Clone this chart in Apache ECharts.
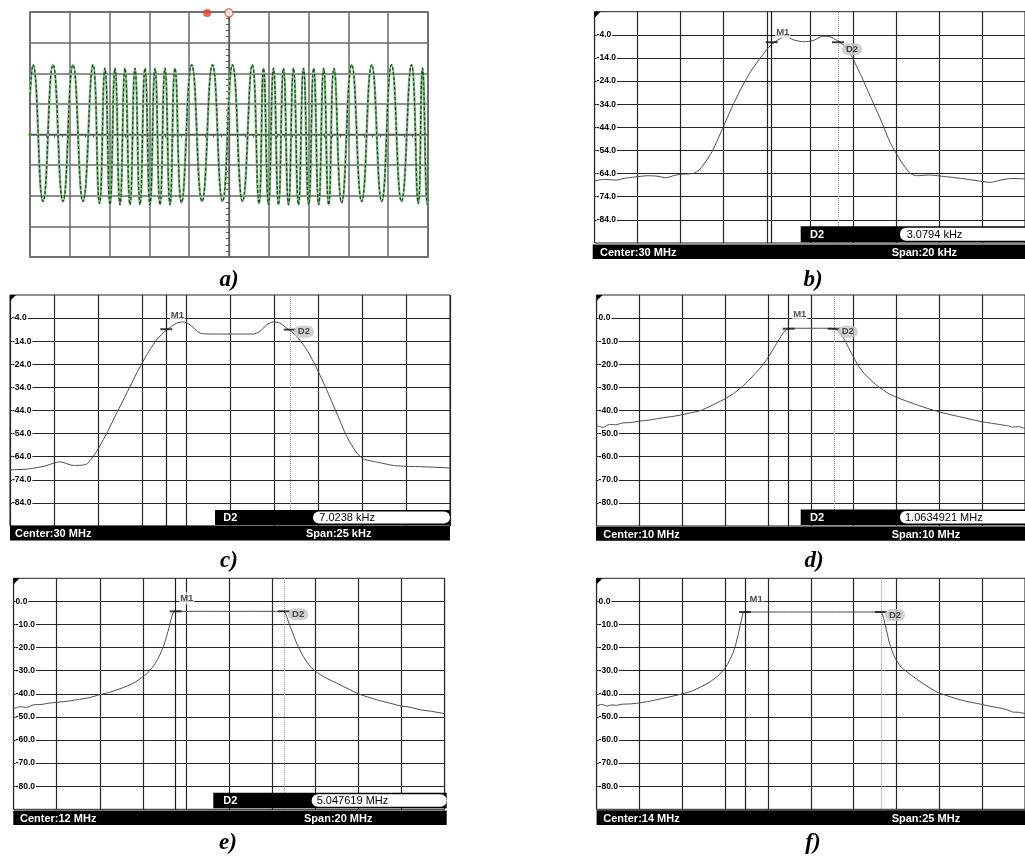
<!DOCTYPE html>
<html><head><meta charset="utf-8">
<script src="https://cdn.jsdelivr.net/npm/echarts@6/dist/echarts.min.js"></script>
<style>html,body{margin:0;padding:0;background:#fff}#c{width:1025px;height:860px}</style>
</head><body><div id="c"></div>
<script>
// ---------- panel a: oscilloscope (time in divisions, volts in divisions) ----------
const aTime = [-5.0,-4.925,-4.673,-4.422,-4.171,-3.92,-3.668,-3.417,-3.254,-3.116,-2.99,-2.864,-2.739,-2.613,-2.487,-2.362,-2.236,-2.111,-1.985,-1.859,-1.734,-1.608,-1.482,-1.357,-1.193,-0.937,-0.678,-0.415,-0.163,0.088,0.339,0.585,0.754,0.867,0.992,1.118,1.244,1.369,1.495,1.621,1.746,1.872,2.003,2.128,2.254,2.379,2.505,2.638,2.832,3.083,3.334,3.585,3.837,4.083,4.334,4.585,4.756,4.862,4.987,5.0];
const aVolt = [1.3,2.27,-2.18,2.27,-2.18,2.27,-2.18,2.27,-2.25,2.16,-2.29,2.16,-2.29,2.16,-2.29,2.16,-2.29,2.16,-2.29,2.16,-2.29,2.16,-2.29,2.16,-2.22,2.27,-2.18,2.27,-2.18,2.27,-2.18,2.27,-2.25,2.16,-2.29,2.16,-2.29,2.16,-2.29,2.16,-2.29,2.16,-2.29,2.16,-2.29,2.16,-2.29,2.16,-2.22,2.27,-2.18,2.27,-2.18,2.27,-2.18,2.27,-2.25,2.16,-2.29,-2.2];
const aTriggerTime = [-0.55, 0.0];

// ---------- spectrum traces (offset from centre frequency, level in dB) ----------
const bFreq = [-10.0,-9.6,-9.0,-8.6,-8.25,-7.5,-7.1,-6.68,-6.3,-6.0,-5.4,-5.15,-4.95,-4.75,-4.5,-4.05,-3.6,-3.15,-2.7,-2.25,-1.8,-1.42,-1.12,-0.75,-0.3,0.15,0.6,0.9,1.28,1.65,1.95,2.4,2.85,3.3,3.75,4.2,4.45,4.66,4.96,5.56,6.3,7.05,7.8,8.4,8.86,9.38,10.0];
const bLevel = [-67.2,-66.5,-66.8,-66.0,-65.6,-64.9,-65.1,-65.8,-64.8,-64.3,-63.9,-62.5,-60.3,-57.6,-53.8,-44.4,-35.0,-26.4,-19.2,-13.4,-8.3,-5.9,-4.8,-6.2,-7.0,-6.5,-4.6,-4.7,-6.5,-9.1,-13.4,-22.0,-31.4,-40.8,-50.9,-58.1,-61.5,-63.9,-64.9,-64.6,-65.3,-66.1,-67.1,-67.8,-66.8,-66.1,-66.3];

const cFreq = [-12.5,-11.55,-10.6,-9.66,-8.9,-8.14,-7.58,-7.0,-6.44,-5.87,-5.3,-4.73,-4.17,-3.6,-3.03,-2.65,-2.27,-1.7,-0.95,0.19,1.33,1.7,2.08,2.46,2.84,3.22,3.79,4.36,4.92,5.49,6.06,6.63,7.2,7.58,8.33,9.28,10.2,11.17,12.5];
const cLevel = [-69.7,-69.4,-68.2,-66.2,-67.8,-67.2,-61.7,-53.8,-45.1,-36.5,-27.8,-19.9,-13.4,-9.1,-6.2,-5.6,-6.9,-10.5,-10.9,-10.9,-10.9,-9.8,-6.9,-5.6,-6.2,-8.3,-11.9,-17.7,-25.6,-35.0,-45.1,-55.2,-62.4,-65.0,-66.3,-67.8,-68.2,-68.4,-68.9];

const dFreq = [-5.0,-4.85,-4.7,-4.55,-4.4,-4.2,-4.0,-3.8,-3.6,-3.4,-3.2,-3.0,-2.8,-2.6,-2.4,-2.2,-2.0,-1.8,-1.6,-1.45,-1.3,-1.15,-1.03,-0.93,-0.84,-0.75,-0.65,-0.55,-0.45,0.0,0.45,0.53,0.6,0.68,0.75,0.82,0.9,1.0,1.12,1.25,1.43,1.6,1.8,2.0,2.26,2.5,2.71,3.0,3.17,3.4,3.62,3.85,4.07,4.25,4.45,4.6,4.71,4.85,5.0];
const dLevel = [-46.6,-47.3,-46.0,-46.2,-45.4,-45.2,-44.6,-44.2,-43.6,-43.0,-42.5,-41.8,-41.0,-40.2,-38.6,-36.8,-34.9,-32.6,-29.6,-27.0,-24.0,-21.0,-18.0,-15.0,-12.3,-9.5,-6.5,-4.7,-4.4,-4.4,-4.4,-4.6,-5.0,-6.3,-8.0,-10.5,-13.5,-17.0,-20.9,-24.0,-27.4,-30.0,-32.5,-34.3,-36.1,-37.7,-39.0,-40.6,-41.4,-42.4,-43.3,-44.3,-45.1,-45.6,-46.2,-46.6,-47.2,-47.0,-47.8];

const eFreq = [-10.0,-9.7,-9.4,-9.08,-8.7,-8.4,-8.0,-7.5,-7.07,-6.5,-6.0,-5.5,-5.0,-4.44,-3.98,-3.7,-3.52,-3.35,-3.21,-3.05,-2.9,-2.78,-2.67,-2.55,-2.48,0.0,2.55,2.67,2.78,2.9,3.13,3.44,3.83,4.37,5.15,6.0,6.85,7.4,7.93,8.4,8.86,9.4,10.0];
const eLevel = [-46.4,-45.6,-45.9,-44.8,-44.6,-44.1,-43.7,-43.2,-42.6,-41.7,-40.4,-39.2,-37.6,-35.4,-32.5,-30.2,-28.1,-25.6,-23.1,-19.5,-15.2,-11.0,-7.0,-4.3,-4.3,-4.3,-4.3,-6.5,-9.5,-12.3,-18.0,-23.8,-28.9,-32.5,-36.1,-40.0,-42.6,-43.9,-45.2,-45.8,-46.9,-47.6,-48.6];

const fFreq = [-12.5,-12.2,-11.9,-11.6,-11.36,-11.0,-10.6,-10.04,-9.4,-8.72,-8.1,-7.49,-6.9,-6.45,-5.95,-5.51,-5.25,-5.03,-4.83,-4.65,-4.5,-4.37,-4.25,-4.14,-4.03,-3.95,-3.84,0.0,4.09,4.23,4.32,4.42,4.6,4.89,5.27,6.02,6.7,7.35,7.9,8.48,9.1,9.8,10.4,10.94,11.4,11.79,12.1,12.5];
const fLevel = [-45.2,-44.6,-45.3,-44.8,-45.0,-44.5,-44.4,-44.0,-43.2,-42.1,-41.1,-40.0,-38.7,-37.1,-35.2,-32.8,-31.0,-29.1,-26.8,-24.1,-21.5,-18.3,-14.8,-11.1,-7.5,-4.9,-4.6,-4.6,-4.6,-6.8,-9.5,-12.6,-18.3,-24.1,-28.4,-32.8,-36.3,-39.2,-40.7,-42.1,-43.3,-44.3,-45.3,-46.0,-46.8,-47.9,-48.0,-48.5];

// ---------- markers M1 / D2 ----------
const bMarkFreq = [-1.77, 1.31],  bMarkLevel = [-7.2, -7.2];
const cMarkFreq = [-3.62, 3.40],  cMarkLevel = [-8.8, -9.0];
const dMarkFreq = [-0.517, 0.535], dMarkLevel = [-4.6, -4.6];
const eMarkFreq = [-2.48, 2.55],  eMarkLevel = [-4.3, -4.3];
const fMarkFreq = [-3.84, 4.09],  fMarkLevel = [-4.6, -4.6];
const markNames = ['M1', 'D2'];

// ---------- tick labels and texts ----------
const dbTicksShifted = [-84,-74,-64,-54,-44,-34,-24,-14,-4];
const dbTicksRound = [-80,-70,-60,-50,-40,-30,-20,-10,0];
const centerTexts = ['Center:30 MHz','Center:30 MHz','Center:10 MHz','Center:12 MHz','Center:14 MHz'];
const spanTexts = ['Span:20 kHz','Span:25 kHz','Span:10 MHz','Span:20 MHz','Span:25 MHz'];
const deltaTexts = ['3.0794 kHz','7.0238 kHz','1.0634921 MHz','5.047619 MHz', null];
const captions = ['a)','b)','c)','d)','e)','f)'];

// ---------- build ----------
const zip = (xs, ys) => xs.map((x, i) => [x, ys[i]]);
const chart = echarts.init(document.getElementById('c'), null, {renderer: 'canvas'});

const SANS = '"Liberation Sans", Arial, sans-serif';
const spec = [
  {grid:{left:594.6, top:11.7, width:443.5, height:231.3}, y:[-94,6], ticks:dbTicksShifted, x:[-10,10,2], f:bFreq, l:bLevel, mf:bMarkFreq, ml:bMarkLevel, m1dy:-10, d2dy:7,
   bar:{x0:592.7, x1:1025, y0:244.5, y1:259}, ctx:600, spx:891.7, dbar:{x0:800.7, x1:1040, y0:226.3, y1:242.2, tx:810, wx:900, vx:906.7}},
  {grid:{left:10, top:295, width:440, height:231}, y:[-94,6], ticks:dbTicksShifted, x:[-12.5,12.5,2.5], f:cFreq, l:cLevel, mf:cMarkFreq, ml:cMarkLevel, m1dy:-14, d2dy:2,
   bar:{x0:10, x1:450, y0:525.8, y1:540.5}, ctx:15, spx:306, dbar:{x0:215, x1:450, y0:510, y1:525, tx:223.3, wx:313, vx:319.3, wr:true}},
  {grid:{left:596.6, top:295, width:441, height:231}, y:[-90,10], ticks:dbTicksRound, x:[-5,5,1], f:dFreq, l:dLevel, mf:dMarkFreq, ml:dMarkLevel, m1dy:-14, d2dy:3,
   bar:{x0:596, x1:1025, y0:526.7, y1:540.7}, ctx:603.3, spx:891.7, dbar:{x0:800.7, x1:1040, y0:509.5, y1:525, tx:810, wx:900, vx:905}},
  {grid:{left:13.6, top:578.3, width:431, height:231}, y:[-90,10], ticks:dbTicksRound, x:[-10,10,2], f:eFreq, l:eLevel, mf:eMarkFreq, ml:eMarkLevel, m1dy:-13, d2dy:3,
   bar:{x0:13.3, x1:446.7, y0:810.5, y1:825}, ctx:20, spx:304, dbar:{x0:213.3, x1:446.7, y0:792.7, y1:808.3, tx:223.3, wx:311.7, vx:316.7, wr:true}},
  {grid:{left:596.6, top:578.3, width:441, height:231}, y:[-90,10], ticks:dbTicksRound, x:[-12.5,12.5,2.5], f:fFreq, l:fLevel, mf:fMarkFreq, ml:fMarkLevel, m1dy:-13, d2dy:3,
   bar:{x0:596.6, x1:1025, y0:810.3, y1:825}, ctx:603.3, spx:891.7, dbar:null}
];

const grids = [{left:30, top:12, width:398, height:245, show:true, borderColor:'#5a5a5a', borderWidth:1.5}];
const xAxes = [{gridIndex:0, type:'value', min:-5, max:5, interval:1,
  axisLine:{show:true, onZero:true, lineStyle:{color:'#5a5a5a', width:1.3}},
  axisTick:{show:false}, minorTick:{show:true, splitNumber:5, length:3, lineStyle:{color:'#555'}},
  axisLabel:{show:false}, splitLine:{show:true, lineStyle:{color:'#6a6a6a', width:1.5}}}];
const yAxes = [{gridIndex:0, type:'value', min:-4, max:4, interval:1,
  axisLine:{show:true, onZero:true, lineStyle:{color:'#5a5a5a', width:1.3}},
  axisTick:{show:false}, minorTick:{show:true, splitNumber:5, length:3, lineStyle:{color:'#555'}},
  axisLabel:{show:false}, splitLine:{show:true, lineStyle:{color:'#6a6a6a', width:1.5}}}];
const series = [
  {type:'line', xAxisIndex:0, yAxisIndex:0, data:zip(aTime, aVolt), smooth:0.5, symbol:'none', animation:false,
   lineStyle:{color:'#86b886', width:2.4}, z:3},
  {type:'line', xAxisIndex:0, yAxisIndex:0, data:zip(aTime, aVolt), smooth:0.5, symbol:'none', animation:false,
   lineStyle:{color:'#0e5512', width:1.3, type:[3,2]}, z:4},
  {type:'scatter', xAxisIndex:0, yAxisIndex:0, animation:false, clip:false, z:5,
   data:[{value:[aTriggerTime[0], 3.97], symbol:'circle', symbolSize:8, itemStyle:{color:'#e2401a'}},
         {value:[aTriggerTime[1], 3.97], symbol:'circle', symbolSize:8, itemStyle:{color:'#fff', borderColor:'#e2401a', borderWidth:1.2}},
         {value:[-5, 0], symbol:'rect', symbolSize:[3,3], itemStyle:{color:'#2aa02a'}}]}
];

const graphics = [];
function rect(x0, y0, x1, y1, fill, r) {
  graphics.push({type:'rect', z:100, shape:{x:x0, y:y0, width:x1-x0, height:y1-y0, r:r||0}, style:{fill:fill}});
}
function text(x, y, s, fill, font, align) {
  graphics.push({type:'text', z:101, x:x, y:y, style:{text:s, fill:fill, font:font, align:align||'left', verticalAlign:'middle'}});
}

spec.forEach((p, k) => {
  const gi = k + 1;
  grids.push(Object.assign({show:true, borderColor:'#222', borderWidth:1, backgroundColor:'transparent'}, p.grid));
  xAxes.push({gridIndex:gi, type:'value', min:p.x[0], max:p.x[1], interval:p.x[2],
    axisLine:{show:false}, axisTick:{show:false}, axisLabel:{show:false},
    splitLine:{show:true, lineStyle:{color:'#262626', width:1.2}}});
  yAxes.push({gridIndex:gi, type:'value', min:p.y[0], max:p.y[1],
    axisLine:{show:false}, axisTick:{show:false, customValues:p.ticks},
    axisLabel:{show:true, customValues:p.ticks, inside:true, margin:2, formatter:v => v.toFixed(1),
      fontSize:8.5, fontWeight:'bold', color:'#000', fontFamily:SANS, backgroundColor:'#fff', padding:[0,1,0,0]},
    splitLine:{show:true, lineStyle:{color:'#262626', width:1.2}}});
  series.push({type:'line', xAxisIndex:gi, yAxisIndex:gi, data:zip(p.f, p.l), smooth:0.2, symbol:'none', animation:false,
    lineStyle:{color:'#4a4a4a', width:1}, z:3,
    markLine:{silent:true, animation:false, symbol:['none','none'], label:{show:false},
      data:[{xAxis:p.mf[0], lineStyle:{color:'#1a1a1a', type:'solid', width:1.2}},
            {xAxis:p.mf[1], lineStyle:{color:'#8a8a8a', type:'dotted', width:1}}]}});
  series.push({type:'scatter', xAxisIndex:gi, yAxisIndex:gi, animation:false, z:6, symbol:'rect', symbolSize:[12,2],
    itemStyle:{color:'#111'},
    data:[
      {value:[p.mf[0], p.ml[0]], label:{show:true, formatter:markNames[0], position:[9.5, 1 + p.m1dy], align:'left', verticalAlign:'middle',
        fontSize:9.5, fontWeight:'bold', color:'#222', fontFamily:SANS, backgroundColor:'rgba(255,255,255,0.9)', padding:[1,1]}},
      {value:[p.mf[1], p.ml[1]], label:{show:true, formatter:markNames[1], position:[10, 1 + p.d2dy], align:'left', verticalAlign:'middle',
        fontSize:9.5, fontWeight:'bold', color:'#222', fontFamily:SANS, backgroundColor:'#c6c6c6', borderRadius:7, padding:[1,4]}}
    ]});
  // corner triangle
  graphics.push({type:'polygon', z:100, shape:{points:[[p.grid.left, p.grid.top],[p.grid.left+6, p.grid.top],[p.grid.left, p.grid.top+6]]}, style:{fill:'#000'}});
  // bottom status bar
  const b = p.bar, yc = (b.y0 + b.y1) / 2 + 1;
  rect(b.x0, b.y0, b.x1, b.y1, '#000');
  text(p.ctx, yc, centerTexts[k], '#fff', 'bold 11px ' + SANS);
  text(p.spx, yc, spanTexts[k], '#fff', 'bold 11px ' + SANS);
  // delta readout
  if (p.dbar && deltaTexts[k]) {
    const d = p.dbar, dc = (d.y0 + d.y1) / 2 + 0.5;
    rect(d.x0, d.y0, d.x1, d.y1, '#000');
    text(d.tx, dc, 'D2', '#fff', 'bold 11px ' + SANS);
    rect(d.wx, d.y0 + 1.5, d.wr ? d.x1 : d.x1 + 20, d.y1 - 1.5, '#fff', 6);
    text(d.vx, dc, deltaTexts[k], '#000', '11px ' + SANS);
  }
});

const capPos = [[229,280],[813,280],[229,561],[814,561],[228,843],[813,843]];
captions.forEach((c, i) => {
  graphics.push({type:'text', z:101, x:capPos[i][0], y:capPos[i][1],
    style:{text:c, fill:'#000', font:'italic bold 23px "Liberation Serif", "Times New Roman", serif', align:'center', verticalAlign:'middle'}});
});

chart.setOption({
  animation:false,
  backgroundColor:'#fff',
  grid:grids, xAxis:xAxes, yAxis:yAxes, series:series,
  graphic:{elements:graphics}
});
</script></body></html>
